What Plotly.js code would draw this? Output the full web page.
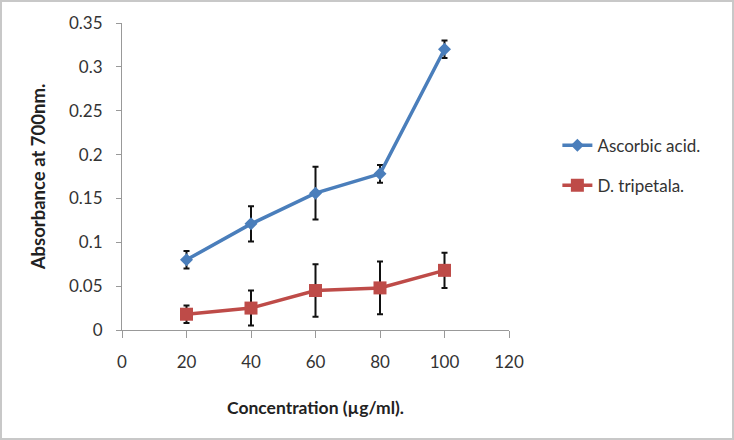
<!DOCTYPE html>
<html><head><meta charset="utf-8">
<script src="https://cdn.plot.ly/plotly-3.0.1.min.js"></script>
<style>html,body{margin:0;padding:0;background:#fff}#c{width:734px;height:440px;box-sizing:border-box;border:2px solid #c8c8c8}</style>
</head><body><div id="c"></div>
<script>
const concentration = [20, 40, 60, 80, 100];
const ascorbic = [0.080, 0.121, 0.156, 0.178, 0.320];
const ascorbicErr = [0.010, 0.020, 0.030, 0.010, 0.010];
const tripetala = [0.018, 0.025, 0.045, 0.048, 0.068];
const tripetalaErr = [0.010, 0.020, 0.030, 0.030, 0.020];
const xTicks = [0, 20, 40, 60, 80, 100, 120];
const yTicks = [0, 0.05, 0.1, 0.15, 0.2, 0.25, 0.3, 0.35];
const yTickText = ['0', '0.05', '0.1', '0.15', '0.2', '0.25', '0.3', '0.35'];

const errStyle = {type: 'data', visible: true, color: '#111', thickness: 2, width: 3};
const traces = [
  {x: concentration, y: ascorbic, name: 'Ascorbic acid.', type: 'scatter', mode: 'lines+markers',
   line: {color: '#4a7ebb', width: 3.5}, marker: {symbol: 'diamond', size: 10, color: '#4a7ebb'},
   error_y: Object.assign({array: ascorbicErr}, errStyle), legend: 'legend'},
  {x: concentration, y: tripetala, name: 'D. tripetala.', type: 'scatter', mode: 'lines+markers',
   line: {color: '#be4b48', width: 3.5}, marker: {symbol: 'square', size: 13, color: '#be4b48'},
   error_y: Object.assign({array: tripetalaErr}, errStyle), legend: 'legend2'}
];
const font = 'Lato, "Open Sans", sans-serif';
const legFont = {size: 17, color: '#333', family: font};
const layout = {
  width: 730, height: 436,
  margin: {l: 120, r: 223, t: 21, b: 108},
  paper_bgcolor: '#fff', plot_bgcolor: '#fff',
  font: {family: font, size: 17, color: '#333'},
  showlegend: true,
  legend: {x: 1.125, y: 0.60, xanchor: 'left', yanchor: 'middle', font: legFont, bgcolor: 'rgba(0,0,0,0)'},
  legend2: {x: 1.125, y: 0.47, xanchor: 'left', yanchor: 'middle', font: legFont, bgcolor: 'rgba(0,0,0,0)'},
  xaxis: {range: [0, 120], tickvals: xTicks, showgrid: false, zeroline: false, showline: true,
    linecolor: '#999', linewidth: 1, ticks: 'outside', ticklen: 7, tickcolor: '#999', ticklabelstandoff: 10,
    title: {text: '<b>Concentration (µg/ml).</b>', font: {size: 17.5, color: '#222'}, standoff: 30}},
  yaxis: {range: [0, 0.35], tickvals: yTicks, ticktext: yTickText, showgrid: false, zeroline: false, showline: true,
    linecolor: '#999', linewidth: 1, ticks: 'outside', ticklen: 5, tickcolor: '#999', ticklabelstandoff: 10,
    title: {text: '<b>Absorbance at 700nm.</b>', font: {size: 18.5, color: '#222'}, standoff: 18}}
};
Plotly.newPlot('c', traces, layout, {displayModeBar: false, staticPlot: true});
</script></body></html>
